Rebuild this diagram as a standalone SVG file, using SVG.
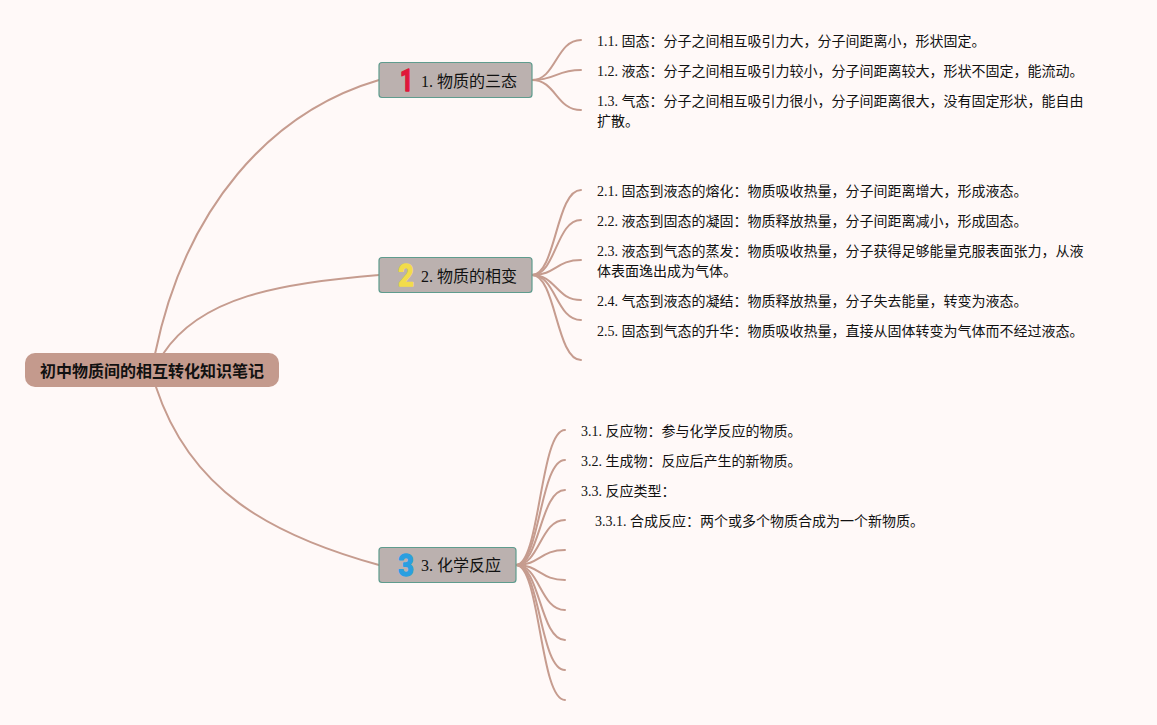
<svg xmlns="http://www.w3.org/2000/svg" width="1157" height="725" viewBox="0 0 1157 725">
<style>
text{font-family:"Liberation Serif","Noto Sans CJK SC",serif;fill:#111}
.leaf{font-size:14px}
.topic{font-size:16px}
.root{font-size:16px;font-weight:700;font-family:"Liberation Sans","Noto Sans CJK SC",sans-serif}
.box{fill:#bbb1af;stroke:#5f9c8e;stroke-width:1.2}
.ico{font-family:Roboto,sans-serif;font-size:32px;font-weight:700;stroke-width:1.5;stroke-linejoin:round;text-anchor:middle}
#connectors path{fill:none;stroke:#c69c8f;stroke-width:2;stroke-linecap:round}
</style>
<rect width="1157" height="725" fill="#fff9f8"/>
<g id="connectors">
<path d="M155 354C185 208 270 112 379 80"/>
<path d="M163 354C200 297 280 283 379 275"/>
<path d="M156 387C190 490 270 535 379 565"/>
<path d="M532 80C556 80 556 40 581 40"/>
<path d="M532 80C556 80 556 70 581 70"/>
<path d="M532 80C556 80 556 110 581 110"/>
<path d="M532 275C556 275 556 190 581 190"/>
<path d="M532 275C556 275 556 220 581 220"/>
<path d="M532 275C556 275 556 260 581 260"/>
<path d="M532 275C556 275 556 300 581 300"/>
<path d="M532 275C556 275 556 320 581 320"/>
<path d="M532 275C556 275 556 360 581 360"/>
<path d="M516 565C540 565 540 430 565 430"/>
<path d="M516 565C540 565 540 460 565 460"/>
<path d="M516 565C540 565 540 490 565 490"/>
<path d="M516 565C540 565 540 520 565 520"/>
<path d="M516 565C540 565 540 550 565 550"/>
<path d="M516 565C540 565 540 580 565 580"/>
<path d="M516 565C540 565 540 610 565 610"/>
<path d="M516 565C540 565 540 640 565 640"/>
<path d="M516 565C540 565 540 670 565 670"/>
<path d="M516 565C540 565 540 700 565 700"/>
</g>
<g id="root"><rect x="25" y="353" width="254" height="34" rx="10" fill="#c49a8d"/><text class="root" x="40" y="377">初中物质间的相互转化知识笔记</text></g>
<g id="topic1"><rect class="box" x="379" y="62.500" width="153" height="35" rx="3"/><text class="ico" transform="translate(406.500 91.300) scale(.72 1)" stroke="#e0173a" style="fill:#e0173a">1</text><text class="topic" x="421" y="87">1. 物质的三态</text></g>
<g id="topic2"><rect class="box" x="379" y="257.500" width="153" height="35" rx="3"/><text class="ico" transform="translate(406 286.300) scale(.85 1)" stroke="#f2dc4a" style="fill:#f2dc4a">2</text><text class="topic" x="421" y="282">2. 物质的相变</text></g>
<g id="topic3"><rect class="box" x="379" y="547.500" width="137" height="35" rx="3"/><text class="ico" transform="translate(406 576.300) scale(.85 1)" stroke="#2a9fe0" style="fill:#2a9fe0">3</text><text class="topic" x="421" y="571">3. 化学反应</text></g>
<g id="n11"><text class="leaf" x="597" y="46">1.1. 固态：分子之间相互吸引力大，分子间距离小，形状固定。</text></g>
<g id="n12"><text class="leaf" x="597" y="76">1.2. 液态：分子之间相互吸引力较小，分子间距离较大，形状不固定，能流动。</text></g>
<g id="n13"><text class="leaf" x="597" y="106">1.3. 气态：分子之间相互吸引力很小，分子间距离很大，没有固定形状，能自由</text><text class="leaf" x="597" y="126">扩散。</text></g>
<g id="n21"><text class="leaf" x="597" y="196">2.1. 固态到液态的熔化：物质吸收热量，分子间距离增大，形成液态。</text></g>
<g id="n22"><text class="leaf" x="597" y="226">2.2. 液态到固态的凝固：物质释放热量，分子间距离减小，形成固态。</text></g>
<g id="n23"><text class="leaf" x="597" y="256">2.3. 液态到气态的蒸发：物质吸收热量，分子获得足够能量克服表面张力，从液</text><text class="leaf" x="597" y="276">体表面逸出成为气体。</text></g>
<g id="n24"><text class="leaf" x="597" y="306">2.4. 气态到液态的凝结：物质释放热量，分子失去能量，转变为液态。</text></g>
<g id="n25"><text class="leaf" x="597" y="336">2.5. 固态到气态的升华：物质吸收热量，直接从固体转变为气体而不经过液态。</text></g>
<g id="n31"><text class="leaf" x="581" y="436">3.1. 反应物：参与化学反应的物质。</text></g>
<g id="n32"><text class="leaf" x="581" y="466">3.2. 生成物：反应后产生的新物质。</text></g>
<g id="n33"><text class="leaf" x="581" y="496">3.3. 反应类型：</text></g>
<g id="n331"><text class="leaf" x="595" y="526">3.3.1. 合成反应：两个或多个物质合成为一个新物质。</text></g>
</svg>
